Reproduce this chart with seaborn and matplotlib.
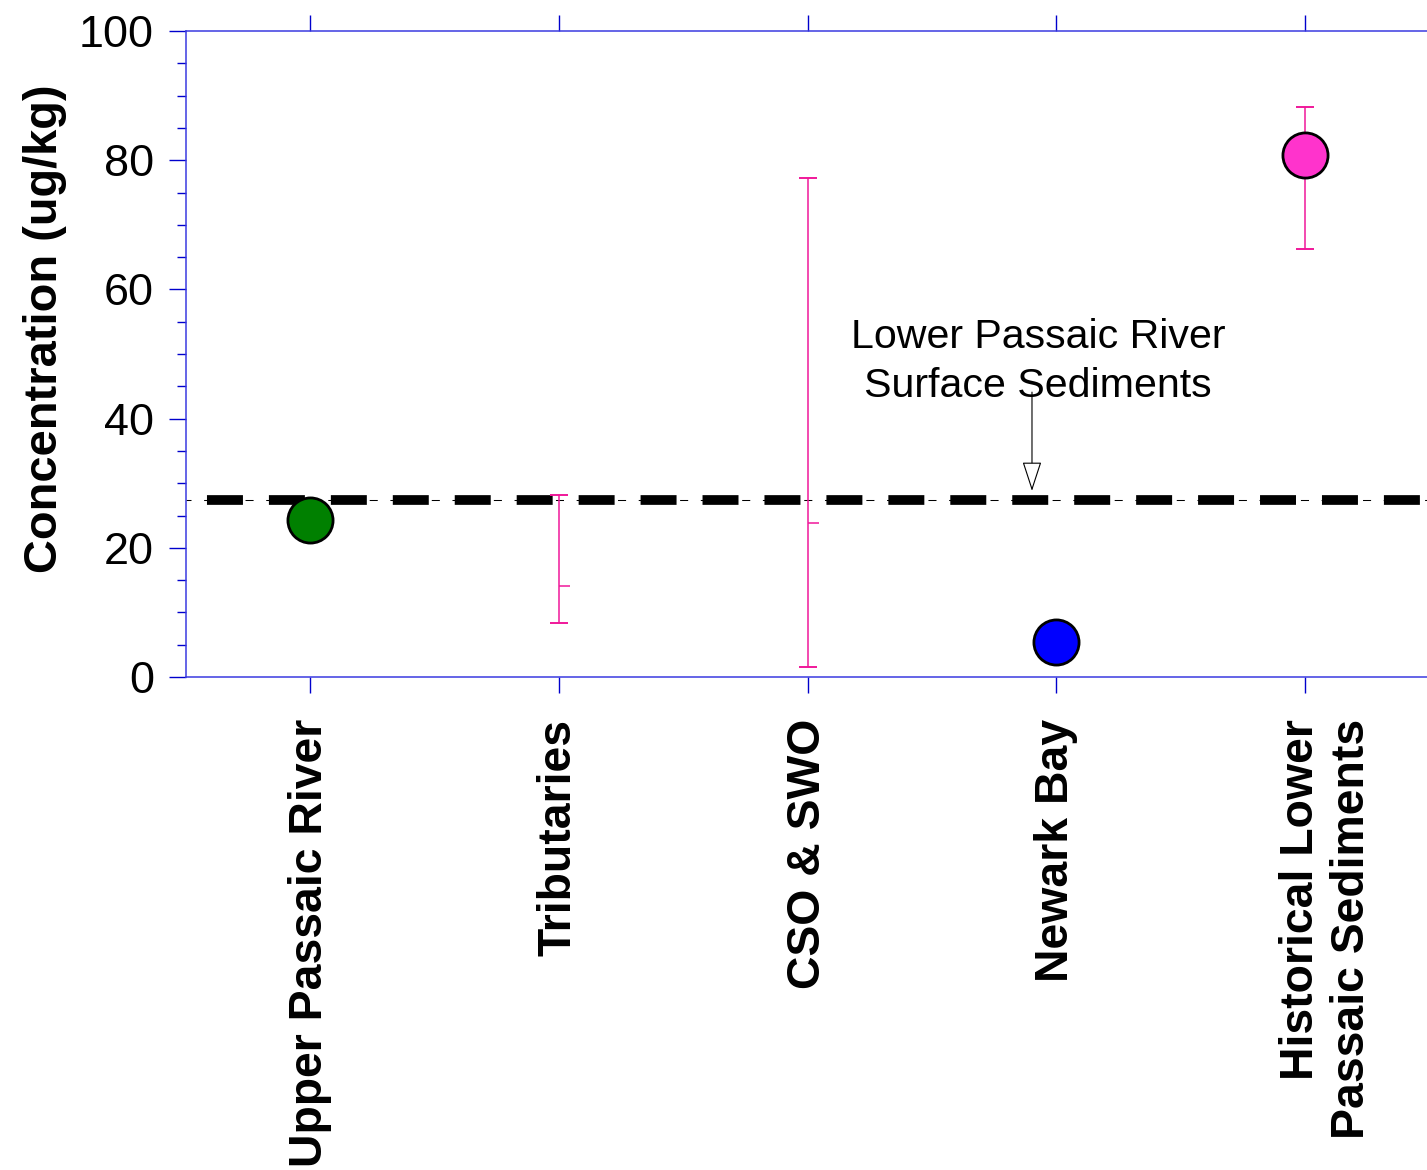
import numpy as np
import pandas as pd
import matplotlib
matplotlib.use("Agg")
import matplotlib.pyplot as plt
from matplotlib.ticker import MultipleLocator
from matplotlib.path import Path
from matplotlib.transforms import ScaledTranslation
import seaborn as sns

# ---- data ----------------------------------------------------------------
categories = ["Upper Passaic River", "Tributaries", "CSO & SWO", "Newark Bay",
              "Historical Lower\nPassaic Sediments"]
point_values = [24.3, np.nan, np.nan, 5.4, 80.8]       # plotted as circles
central_values = [np.nan, 14.1, 23.8, np.nan, 80.8]    # centre of the ranges
range_low = [np.nan, 8.3, 1.5, np.nan, 66.2]
range_high = [np.nan, 28.2, 77.3, np.nan, 88.3]
point_colors = ["#008000", "#FF33CC", "#FF33CC", "#0000FF", "#FF33CC"]
lower_passaic_surface = 27.4
y_ticks = [0, 20, 40, 60, 80, 100]

# ---- style ---------------------------------------------------------------
sns.set_style("white")
plt.rcParams["font.family"] = ["Liberation Sans", "DejaVu Sans"]
plt.rcParams["lines.scale_dashes"] = False
plt.rcParams["text.color"] = "black"
plt.rcParams["axes.labelcolor"] = "black"
plt.rcParams["xtick.labelcolor"] = "black"
plt.rcParams["ytick.labelcolor"] = "black"

BAR_PINK = "#F0189A"
AXIS_BLUE = "#3A3AE0"
TICK_BLUE = "#0000CC"

fig = plt.figure(figsize=(14.27, 11.70), dpi=100)
ax = fig.add_axes([186 / 1427, 1 - 677 / 1170, (1429 - 186) / 1427, (677 - 31) / 1170])

df = pd.DataFrame({"site": categories, "value": point_values})
palette = dict(zip(categories, point_colors))
pos = {c: i for i, c in enumerate(categories)}

# reference level for the lower Passaic surface sediments
ax.axhline(lower_passaic_surface, color="black", lw=0.75,
           linestyle=(2.2, (5.8, 9.1)), zorder=2)
ax.axhline(lower_passaic_surface, color="black", lw=7.0,
           linestyle=(29.5, (25.9, 18.7)), zorder=2)

# ranges
rng = pd.DataFrame({"site": categories, "mid": central_values,
                    "lo": range_low, "hi": range_high}).dropna()
rng_x = rng["site"].map(pos).to_numpy()
ax.errorbar(rng_x, rng["mid"], yerr=[rng["mid"] - rng["lo"], rng["hi"] - rng["mid"]],
            fmt="none", ecolor=BAR_PINK, elinewidth=1.1, capsize=6.2, capthick=1.4,
            zorder=3)

# half-tick marking the central value of ranges without a circle
half_tick = Path([(0, 0), (1, 0)])
no_point = rng[df.set_index("site").loc[rng["site"], "value"].isna().to_numpy()]
ax.plot(no_point["site"].map(pos), no_point["mid"], linestyle="none",
        marker=half_tick, markersize=16, markeredgewidth=1.1,
        markeredgecolor=BAR_PINK, zorder=3)

sns.stripplot(data=df, x="site", y="value", hue="site", palette=palette,
              order=categories, hue_order=categories, jitter=False, size=32.5,
              linewidth=2.0, edgecolor="black", legend=False, ax=ax, zorder=5)

# ---- axes ----------------------------------------------------------------
ax.set_xlim(-0.5, len(categories) - 0.5)
ax.set_ylim(0, 100)
ax.set_yticks(y_ticks)
ax.yaxis.set_minor_locator(MultipleLocator(5))
ax.set_xticks(range(len(categories)))
ax.set_xticklabels(categories, rotation=90, fontsize=33.4, fontweight="bold",
                   va="top", ha="center", multialignment="right")
ax.tick_params(axis="y", which="major", direction="out", length=12, width=1.0,
               color=TICK_BLUE, labelsize=32.4, pad=11, left=True)
ax.tick_params(axis="y", which="minor", direction="out", length=6.5, width=1.0,
               color=TICK_BLUE, left=True)
ax.tick_params(axis="x", which="major", direction="out", length=11.5, width=1.0,
               color=TICK_BLUE, pad=18.7, bottom=True, top=True, labeltop=False)

for side in ["left", "bottom", "top"]:
    ax.spines[side].set_color(AXIS_BLUE)
    ax.spines[side].set_linewidth(1.1)
ax.spines["right"].set_visible(False)

ax.set_xlabel("")
ax.set_ylabel("Concentration (ug/kg)", fontsize=33.8, fontweight="bold")
ax.yaxis.set_label_coords((67 - 186) / 1243, (677 - 329) / 646)
ax.grid(False)

# two-line label starts at its tick like the single-line ones
last = ax.get_xticklabels()[-1]
last.set_transform(last.get_transform() + ScaledTranslation(0.22, 0, fig.dpi_scale_trans))

# ---- annotation ----------------------------------------------------------
ax.text(2.927, 43.3, "Lower Passaic River\nSurface Sediments", fontsize=29.6,
        ha="center", va="baseline", linespacing=1.36, zorder=6)
ax.annotate("", xy=(2.903, 28.8), xytext=(2.903, 44.1),
            arrowprops=dict(arrowstyle="-|>,head_length=18.7,head_width=6.1",
                            mutation_scale=1, shrinkA=0, shrinkB=0,
                            facecolor="white", edgecolor="black", lw=0.8),
            zorder=6)

fig.savefig("out.png", dpi=100)
